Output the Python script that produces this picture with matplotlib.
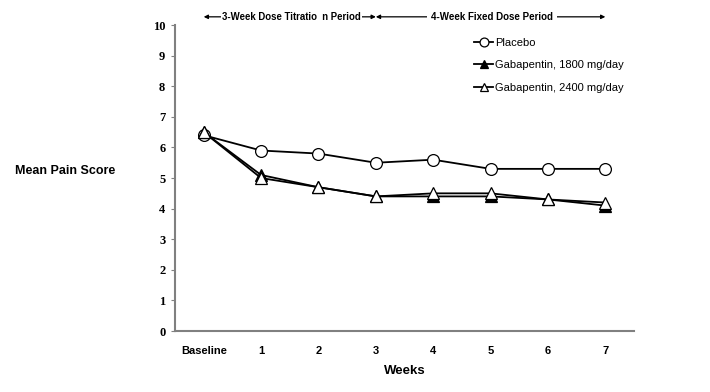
import matplotlib
matplotlib.use('Agg')
import matplotlib.pyplot as plt

weeks = ['Baseline', '1', '2', '3', '4', '5', '6', '7']
placebo = [6.4, 5.9, 5.8, 5.5, 5.6, 5.3, 5.3, 5.3]
gaba_1800 = [6.5, 5.1, 4.7, 4.4, 4.4, 4.4, 4.3, 4.1]
gaba_2400 = [6.5, 5.0, 4.7, 4.4, 4.5, 4.5, 4.3, 4.2]
y_ticks = list(range(0, 11))

plt.rcParams['font.family'] = ['Liberation Sans', 'DejaVu Sans']

dpi = 100
fig = plt.figure(dpi=dpi, figsize=(710 / dpi, 392 / dpi))
ax = fig.add_axes([0.2465, 0.1556, 0.6465, 0.7804])

xs = range(len(weeks))
ax.plot(xs, placebo, color='black', lw=1.3, marker='o', ms=8.5,
        mfc='white', mec='black', mew=0.9, label='Placebo', zorder=3)
ax.plot(xs, gaba_1800, color='black', lw=1.3, marker='^', ms=8.5,
        mfc='black', mec='black', mew=0.9, label='Gabapentin, 1800 mg/day', zorder=3)
ax.plot(xs, gaba_2400, color='black', lw=1.3, marker='^', ms=8.5,
        mfc='white', mec='black', mew=0.9, label='Gabapentin, 2400 mg/day', zorder=4)

ax.set_xlim(-0.5, 7.5)
ax.set_ylim(0, 10)
ax.set_yticks(y_ticks)
ax.set_yticklabels([str(t) for t in y_ticks], family='Liberation Serif',
                   fontweight='bold', fontsize=9)
ax.set_xticks(list(xs))
ax.set_xticklabels(weeks, fontweight='bold', fontsize=8)
ax.tick_params(axis='x', length=0, pad=11)
ax.tick_params(axis='y', length=3, color='#808080', pad=4)

for s in ['top', 'right']:
    ax.spines[s].set_visible(False)
for s in ['left', 'bottom']:
    ax.spines[s].set_color('#808080')
    ax.spines[s].set_linewidth(1.5)

ax.set_xlabel('Weeks', fontweight='bold', fontsize=9.5, labelpad=6)
fig.text(0.021, 0.565, 'Mean Pain Score', fontweight='bold', fontsize=9,
         va='center', ha='left')

# period arrows on top
ytop = 10.27
ax.annotate('', xy=(3, ytop), xytext=(0, ytop), annotation_clip=False,
            arrowprops=dict(arrowstyle='<|-|>', color='black', lw=0.9,
                            shrinkA=0, shrinkB=0, mutation_scale=6))
ax.annotate('', xy=(7, ytop), xytext=(3, ytop), annotation_clip=False,
            arrowprops=dict(arrowstyle='<|-|>', color='black', lw=0.9,
                            shrinkA=0, shrinkB=0, mutation_scale=6))
ax.text(1.53, ytop, '3-Week Dose Titratio  n Period', ha='center', va='center',
        fontsize=6.9, fontweight='bold', clip_on=False,
        bbox=dict(facecolor='white', edgecolor='none', pad=0.5))
ax.text(5.03, ytop, '4-Week Fixed Dose Period', ha='center', va='center',
        fontsize=7, fontweight='bold', clip_on=False,
        bbox=dict(facecolor='white', edgecolor='none', pad=3))

ax.legend(loc='upper right', bbox_to_anchor=(1.0, 0.99), frameon=False,
          fontsize=8, handlelength=1.7, handletextpad=0.2, labelspacing=1.1,
          markerscale=0.75)

fig.savefig('out.png')
